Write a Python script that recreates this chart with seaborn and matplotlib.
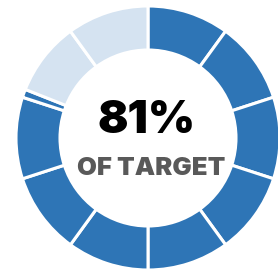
import matplotlib
matplotlib.use("Agg")
import matplotlib.pyplot as plt
import seaborn as sns

sns.set_theme(style="white")
plt.rcParams['font.family'] = ['Inter', 'DejaVu Sans']

# data
segment_labels = ["s1", "s2", "s3", "s4", "s5", "s6", "s7", "s8", "s9a", "s9b", "s10"]
segment_values = [10, 10, 10, 10, 10, 10, 10, 10, 1, 9, 10]
segment_achieved = [True] * 9 + [False, False]
pct_label = "81%"
sub_label = "OF TARGET"

dark = "#2E75B6"
light = "#D5E3F1"
colors = [dark if a else light for a in segment_achieved]

fig = plt.figure(figsize=(2.78, 2.73), dpi=100)
ax = fig.add_axes([0, 0, 1, 1])
ax.pie(segment_values, colors=colors, startangle=90, counterclock=False,
       center=(148, 135), radius=132, frame=True,
       wedgeprops=dict(width=44, edgecolor="white", linewidth=2.2))
ax.set_xlim(0, 278)
ax.set_ylim(0, 273)
ax.set_aspect("equal")
ax.axis("off")

ax.text(146.5, 140, pct_label, ha="center", va="baseline", fontsize=32.5,
        fontweight="black", color="black")
ax.text(151.5, 98, sub_label, ha="center", va="baseline", fontsize=18.5,
        fontweight="black", color="#595959")

fig.savefig("out.png", dpi=100)
